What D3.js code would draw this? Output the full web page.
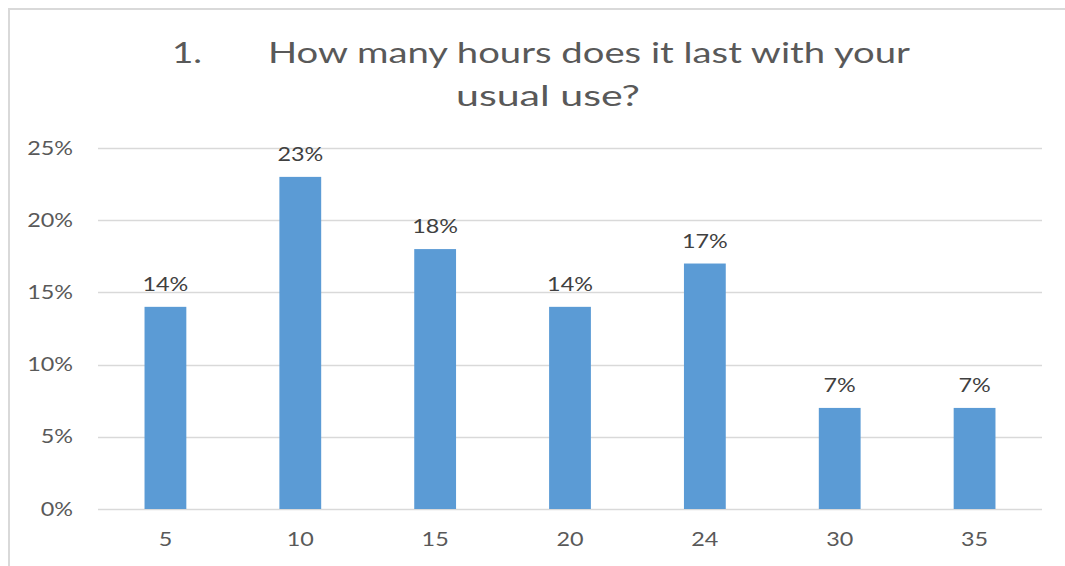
<!DOCTYPE html>
<html>
<head>
<meta charset="utf-8">
<script src="https://cdn.jsdelivr.net/npm/d3@7"></script>
<style>
  html, body { margin: 0; padding: 0; background: #fff; }
  svg { display: block; font-family: Lato, "Open Sans", sans-serif; }
</style>
</head>
<body>
<svg id="chart" width="1065" height="566"></svg>
<script>
// Battery life survey: share of answers per number of hours
const hours = ["5", "10", "15", "20", "24", "30", "35"];
const shares = [0.14, 0.23, 0.18, 0.14, 0.17, 0.07, 0.07];
const yTicks = [0, 0.05, 0.10, 0.15, 0.20, 0.25];
const titleNumber = "1.";
const titleLines = ["How many hours does it last with your", "usual use?"];

const svg = d3.select("#chart");
const margin = { left: 98, right: 1042, top: 148, bottom: 509 };
const stretch = 1.23; // wide lettering used for all chart text

// Chart frame
svg.append("rect")
  .attr("x", 9).attr("y", 9)
  .attr("width", 1070).attr("height", 580)
  .attr("fill", "#fff")
  .attr("stroke", "#d9d9d9").attr("stroke-width", 2);

const x = d3.scaleBand()
  .domain(hours)
  .range([margin.left, margin.right])
  .paddingInner(0.69)
  .paddingOuter(0.345);

const y = d3.scaleLinear()
  .domain([0, 0.25])
  .range([margin.bottom, margin.top]);

const pct = d3.format(".0%");

// Horizontal gridlines
svg.append("g")
  .selectAll("line")
  .data(yTicks)
  .join("line")
  .attr("x1", margin.left).attr("x2", margin.right)
  .attr("y1", d => Math.round(y(d)) + 0.5)
  .attr("y2", d => Math.round(y(d)) + 0.5)
  .attr("stroke", "#d9d9d9").attr("stroke-width", 1.5);

// Y axis labels
const yAxis = svg.append("g")
  .attr("transform", `translate(${margin.left - 25},0)`)
  .call(d3.axisLeft(y).tickValues(yTicks).tickFormat(pct).tickSize(0).tickPadding(0));
yAxis.select(".domain").remove();
yAxis.selectAll("text")
  .attr("font-size", 19).attr("fill", "#595959")
  .attr("font-family", "Lato, 'Open Sans', sans-serif")
  .attr("transform", `scale(${stretch},1)`);

// X axis labels
const xAxis = svg.append("g")
  .attr("transform", `translate(0,${margin.bottom})`)
  .call(d3.axisBottom(x).tickSize(0).tickPadding(24));
xAxis.select(".domain").remove();
xAxis.selectAll("text")
  .attr("font-size", 19).attr("fill", "#595959")
  .attr("font-family", "Lato, 'Open Sans', sans-serif")
  .attr("transform", `scale(${stretch},1)`);

// Bars
const rows = hours.map((h, i) => ({ h, v: shares[i] }));
svg.append("g")
  .selectAll("rect")
  .data(rows)
  .join("rect")
  .attr("x", d => x(d.h))
  .attr("width", x.bandwidth())
  .attr("y", d => y(d.v))
  .attr("height", d => y(0) - y(d.v))
  .attr("fill", "#5b9bd5");

// Value labels
svg.append("g")
  .selectAll("g")
  .data(rows)
  .join("g")
  .attr("transform", d => `translate(${x(d.h) + x.bandwidth() / 2},${y(d.v) - 16})`)
  .append("text")
  .attr("text-anchor", "middle")
  .attr("font-size", 19)
  .attr("fill", "#404040")
  .attr("transform", `scale(${stretch},1)`)
  .text(d => pct(d.v));

// Title
const title = svg.append("g").attr("fill", "#595959").attr("font-size", 29);
title.append("text")
  .attr("x", 172).attr("y", 63)
  .attr("textLength", 30).attr("lengthAdjust", "spacingAndGlyphs")
  .text(titleNumber);
title.append("text")
  .attr("x", 268).attr("y", 63)
  .attr("textLength", 642).attr("lengthAdjust", "spacingAndGlyphs")
  .text(titleLines[0]);
title.append("text")
  .attr("x", 456).attr("y", 106)
  .attr("textLength", 184).attr("lengthAdjust", "spacingAndGlyphs")
  .text(titleLines[1]);
</script>
</body>
</html>
